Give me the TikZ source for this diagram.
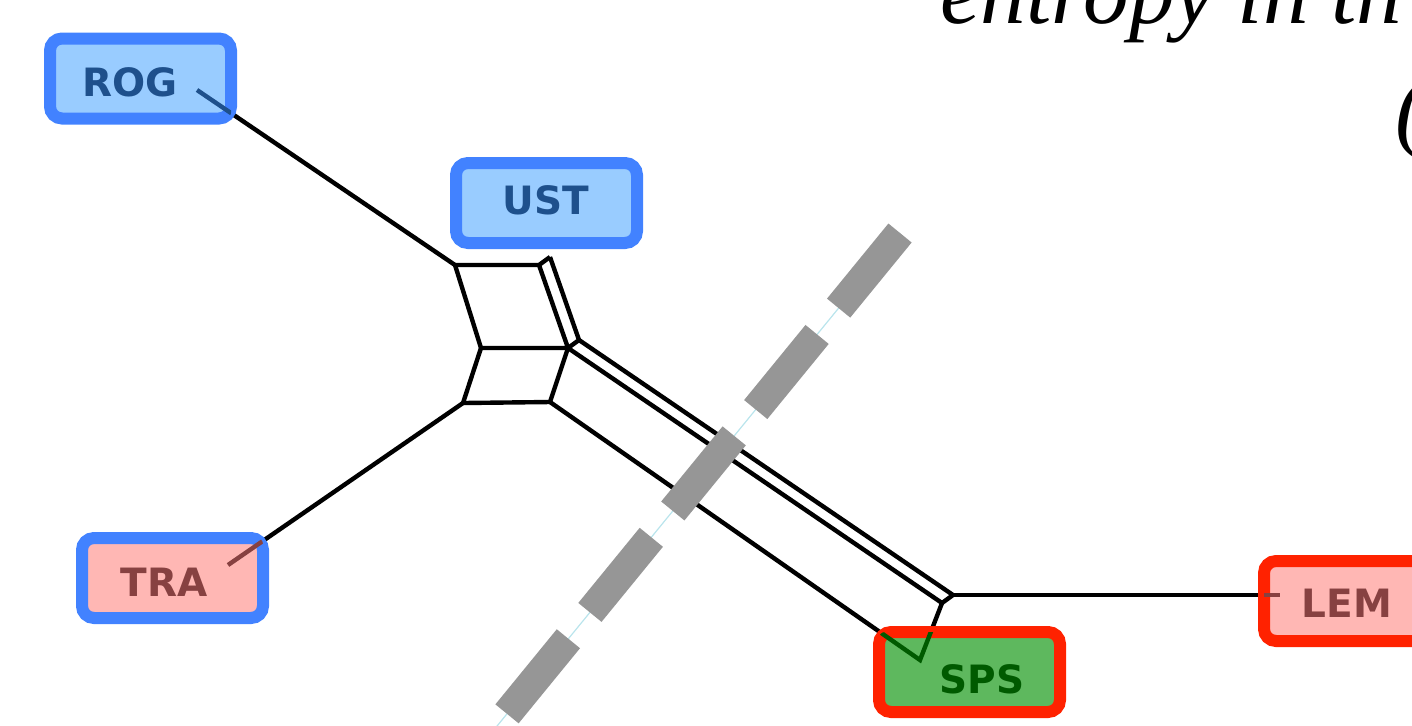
\documentclass[tikz,border=0pt]{standalone}
\usepackage{fontspec}
\newfontfamily\lblfont{DejaVu Sans}
\newfontfamily\titlefont{Liberation Serif}
\definecolor{bordblue}{RGB}{66,130,255}
\definecolor{fillblue}{RGB}{153,204,255}
\definecolor{txtblue}{RGB}{30,80,140}
\definecolor{fillpink}{RGB}{255,183,180}
\definecolor{txtred}{RGB}{135,65,65}
\definecolor{bordred}{RGB}{255,34,0}
\definecolor{fillgreen}{RGB}{94,184,94}
\definecolor{txtgreen}{RGB}{0,90,0}
\definecolor{dashgray}{RGB}{150,150,150}
\definecolor{thincyan}{RGB}{185,228,236}
\begin{document}
\begin{tikzpicture}[x=0.5pt,y=-0.5pt,
  edge/.style={line width=2.2pt, line join=miter},
  box/.style={rounded corners=6pt, line width=6pt, minimum width=90.5pt, minimum height=40pt, inner sep=0pt},
  bluebox/.style={box, draw=bordblue, fill=fillblue},
  pinkblue/.style={box, draw=bordblue, fill=fillpink},
  pinkred/.style={box, draw=bordred, fill=fillpink},
  greenred/.style={box, draw=bordred, fill=fillgreen},
  lbl/.style={font=\lblfont\bfseries\fontsize{19.5pt}{19.5pt}\selectfont, inner sep=0pt, anchor=base},
  titletxt/.style={font=\titlefont\itshape\fontsize{45.5pt}{50pt}\selectfont, inner sep=0pt, anchor=base west},
  cutline/.style={dashgray, line width=15pt, dash pattern=on 48.5pt off 17pt},
  thinline/.style={thincyan, line width=0.6pt}
]
\clip (0,0) rectangle (1412,725);
% junctions of the network
\coordinate (A) at (455,265);
\coordinate (B) at (539,265);
\coordinate (Bp) at (550,257);
\coordinate (C) at (481,348);
\coordinate (D) at (568,348);
\coordinate (Dp) at (579,340);
\coordinate (E) at (463,403);
\coordinate (F) at (550,402);
\coordinate (G) at (942,603);
\coordinate (Gp) at (953,595);
\coordinate (rogend) at (197,90);
\coordinate (traend) at (228,565);
\coordinate (spsend) at (920,660);
\coordinate (lemend) at (1280,595);
\coordinate (cutA) at (900,233);
\coordinate (cutB) at (457,775);
% network edges
\draw[edge] (rogend) -- (A);
\draw[edge] (A) -- (B) -- (Bp);
\draw[edge] (A) -- (C) -- (D) -- (B);
\draw[edge] (Bp) -- (Dp) -- (D);
\draw[edge] (C) -- (E) -- (F) -- (D);
\draw[edge] (E) -- (traend);
\draw[edge] (F) -- (spsend) -- (G);
\draw[edge] (D) -- (G) -- (Gp) -- (Dp);
\draw[edge] (Gp) -- (lemend);
% cut line
\draw[thinline] (cutA) -- (cutB);
\draw[cutline] (cutA) -- (cutB);
% boxes
\node[bluebox] (rog) at (140.5,78.5) {};
\node[bluebox] (ust) at (546.5,203) {};
\node[pinkblue] (tra) at (172.5,578) {};
\node[greenred] (sps) at (969.5,672) {};
\node[pinkred] (lem) at (1354.5,601) {};
% tinted edge parts inside boxes
\begin{scope}
\clip[rounded corners=3pt] ([shift={(3pt,3pt)}]rog.south west) rectangle ([shift={(-3pt,-3pt)}]rog.north east);
\draw[edge, txtblue] (rogend) -- (A);
\end{scope}
\begin{scope}
\clip[rounded corners=3pt] ([shift={(3pt,3pt)}]tra.south west) rectangle ([shift={(-3pt,-3pt)}]tra.north east);
\draw[edge, txtred] (traend) -- (E);
\end{scope}
\begin{scope}
\clip[rounded corners=3pt] ([shift={(3pt,3pt)}]sps.south west) rectangle ([shift={(-3pt,-3pt)}]sps.north east);
\draw[edge, txtgreen] (F) -- (spsend) -- (G);
\end{scope}
\begin{scope}
\clip[rounded corners=3pt] ([shift={(3pt,3pt)}]lem.south west) rectangle ([shift={(-3pt,-3pt)}]lem.north east);
\draw[edge, txtred] (Gp) -- (lemend);
\end{scope}
% labels
\node[lbl, txtblue] (rogt) at (130,96) {ROG};
\node[lbl, txtblue] (ustt) at (546,214) {UST};
\node[lbl, txtred] (trat) at (164,596) {TRA};
\node[lbl, txtgreen] (spst) at (982,693) {SPS};
\node[lbl, txtred] (lemt) at (1347,617) {LEM};
% title fragments
\node[titletxt] (title) at (940,23) {entropy in th};
\node[titletxt] (paren) at (1395,139) {(};
\end{tikzpicture}
\end{document}
